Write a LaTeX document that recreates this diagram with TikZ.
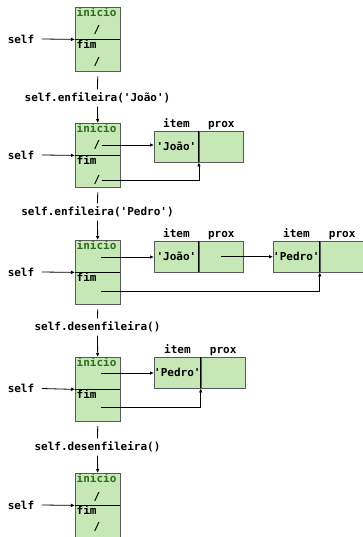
\documentclass[tikz,border=0pt]{standalone}
\usepackage{fontspec}
\setmonofont{DejaVu Sans Mono}
\usetikzlibrary{arrows.meta}
\definecolor{cellgreen}{HTML}{C6E8B6}
\definecolor{cellgray}{HTML}{5A5A5A}
\definecolor{headgreen}{HTML}{2F6A1E}

\begin{document}
\begin{tikzpicture}[x=1bp, y=-1bp, >={Latex[length=4bp,width=3.6bp]},
  font=\ttfamily\bfseries\fontsize{11bp}{13bp}\selectfont,
  half/.style={draw=cellgray, fill=cellgreen, minimum width=45bp, minimum height=32bp,
    inner sep=0pt, anchor=north west},
  cell/.style={draw=cellgray, fill=cellgreen, minimum width=44.5bp, minimum height=31bp,
    inner sep=0pt, anchor=north west},
  tag/.style={inner sep=1.5bp, anchor=north west, text height=8bp, text depth=2.5bp},
  fieldname/.style={above, inner sep=1bp, text height=8bp, text depth=2.5bp},
  link/.style={->, line width=0.8bp},
  bar/.style={line width=1bp}]
  \useasboundingbox[fill=white] (0,0) rectangle (362,537);

  % estado inicial
  \node[half] (q1i) at (75,7) {};
  \node[half] (q1f) at (75,39) {};
  \draw[bar] (q1i.south west) -- (q1i.south east);
  \node[tag, headgreen] at (q1i.north west) {inicio};
  \node[tag] at (q1f.north west) {fim};
  \node (s1i) at (97,30) {/};
  \node (s1f) at (97,62) {/};
  \node (self1) at (21,39) {self};
  \draw[link] ([xshift=4bp]self1.east) -- (q1i.south west);

  \node (op1) at (97.5,98) {self.enfileira('João')};
  \draw[line width=0.8bp] ([yshift=-5bp]q1f.south) -- (op1.north);
  \draw[link] (op1.south) -- (q1i.north |- 0,123);

  % um elemento
  \node[half] (q2i) at (75,123) {};
  \node[half] (q2f) at (75,155) {};
  \draw[bar] (q2i.south west) -- (q2i.south east);
  \node[tag, headgreen] at (q2i.north west) {inicio};
  \node[tag] at (q2f.north west) {fim};
  \node (s2i) at (97,145) {/};
  \node (s2f) at (97,180) {/};
  \node (self2) at (21,155) {self};
  \draw[link] ([xshift=4bp]self2.east) -- (q2i.south west);
  \node[cell] (j2item) at (154,131) {'João'};
  \node[cell] (j2prox) at (j2item.north east) {};
  \draw[bar] (j2item.north east) -- (j2item.south east);
  \node[fieldname] at (j2item.north) {item};
  \node[fieldname] at (j2prox.north) {prox};
  \draw[link] ([xshift=-2bp]s2i.east) -- (s2i.east -| j2item.west);
  \draw[link] ([xshift=-2bp]s2f.east) -| (j2item.south east);

  \node (op2) at (97.5,212) {self.enfileira('Pedro')};
  \draw[line width=0.8bp] ([yshift=-5bp]q2f.south) -- (op2.north);
  \draw[link] (op2.south) -- (q2i.north |- 0,240);

  % dois elementos
  \node[half] (q3i) at (75,240) {};
  \node[half] (q3f) at (75,272) {};
  \draw[bar] (q3i.south west) -- (q3i.south east);
  \node[tag, headgreen] at (q3i.north west) {inicio};
  \node[tag] at (q3f.north west) {fim};
  \coordinate (s3i) at (101,257);
  \coordinate (s3f) at (101,291);
  \node (self3) at (21,272) {self};
  \draw[link] ([xshift=4bp]self3.east) -- (q3i.south west);
  \node[cell] (j3item) at (154,241) {'João'};
  \node[cell] (j3prox) at (j3item.north east) {};
  \draw[bar] (j3item.north east) -- (j3item.south east);
  \node[fieldname] at (j3item.north) {item};
  \node[fieldname] at (j3prox.north) {prox};
  \node[cell] (p3item) at (273,241) {'Pedro'};
  \node[cell] (p3prox) at (p3item.north east) {};
  \draw[bar] (p3item.north east) -- (p3item.south east);
  \node[fieldname] at (p3item.north) {item};
  \node[fieldname] at (p3prox.north) {prox};
  \draw[link] (s3i) -- (s3i -| j3item.west);
  \draw[link] (j3prox.center) -- (p3item.west);
  \draw[link] (s3f) -| (p3item.south east);

  \node (op3) at (97.5,327) {self.desenfileira()};
  \draw[line width=0.8bp] ([yshift=-5bp]q3f.south) -- (op3.north);
  \draw[link] (op3.south) -- (q3i.north |- 0,357);

  % um elemento de novo
  \node[half] (q4i) at (75,357) {};
  \node[half] (q4f) at (75,388.5) {};
  \draw[bar] (q4i.south west) -- (q4i.south east);
  \node[tag, headgreen] at (q4i.north west) {inicio};
  \node[tag] at (q4f.north west) {fim};
  \coordinate (s4i) at (101,373);
  \coordinate (s4f) at (101,407);
  \node (self4) at (21,388.5) {self};
  \draw[link] ([xshift=4bp]self4.east) -- (q4i.south west);
  \node[cell] (p4item) at (154,357) {'Pedro'};
  \node[cell] (p4prox) at (p4item.north east) {};
  \draw[bar] (p4item.north east) -- (p4item.south east);
  \node[fieldname] at (p4item.north) {item};
  \node[fieldname] at (p4prox.north) {prox};
  \draw[link] (s4i) -- (s4i -| p4item.west);
  \draw[link] (s4f) -| (p4item.south east);

  \node (op4) at (97.5,447) {self.desenfileira()};
  \draw[line width=0.8bp] ([yshift=-5bp]q4f.south) -- (op4.north);
  \draw[link] (op4.south) -- (q4i.north |- 0,473);

  % fila vazia
  \node[half] (q5i) at (75,473) {};
  \node[half] (q5f) at (75,505) {};
  \draw[bar] (q5i.south west) -- (q5i.south east);
  \node[tag, headgreen] at (q5i.north west) {inicio};
  \node[tag] at (q5f.north west) {fim};
  \node (s5i) at (97,497) {/};
  \node (s5f) at (97,527) {/};
  \node (self5) at (21,505) {self};
  \draw[link] ([xshift=4bp]self5.east) -- (q5i.south west);
\end{tikzpicture}
\end{document}
